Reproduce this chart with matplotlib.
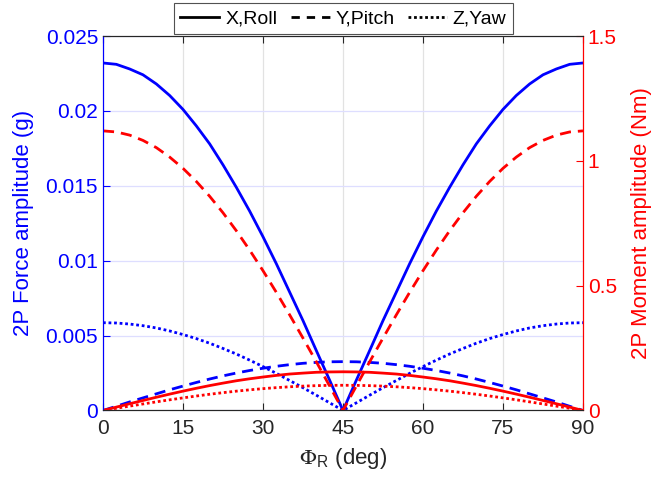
import numpy as np
import matplotlib
matplotlib.use("Agg")
import matplotlib.pyplot as plt
from matplotlib.lines import Line2D

plt.rcParams['font.family'] = ['Liberation Sans', 'DejaVu Sans']
plt.rcParams['mathtext.fontset'] = 'stix'

# Phi_R in degrees, 0..90 every 2.5 deg
phi = [0, 2.5, 5, 7.5, 10, 12.5, 15, 17.5, 20, 22.5, 25, 27.5, 30, 32.5, 35, 37.5, 40, 42.5, 45,
       47.5, 50, 52.5, 55, 57.5, 60, 62.5, 65, 67.5, 70, 72.5, 75, 77.5, 80, 82.5, 85, 87.5, 90]

# values read for 0..45 deg; the curves are mirror images about 45 deg
# 2P force amplitude (g)
force_x_half = [0.0232, 0.02311, 0.0228, 0.02241, 0.0218, 0.02103, 0.0201, 0.0190, 0.0178, 0.0164,
                0.0149, 0.01331, 0.0116, 0.0098, 0.0079, 0.0060, 0.0040, 0.00202, 0.0]
force_y_half = [0.0, 0.00028, 0.00057, 0.00084, 0.00111, 0.00138, 0.00163, 0.00187, 0.00210, 0.00231,
                0.00250, 0.00267, 0.00282, 0.00295, 0.00306, 0.00315, 0.00321, 0.00325, 0.00326]
force_z_half = [0.00586, 0.00584, 0.00577, 0.00566, 0.00551, 0.00531, 0.00507, 0.00480, 0.00449, 0.00414,
                0.00377, 0.00336, 0.00293, 0.00248, 0.00200, 0.00152, 0.00102, 0.00051, 0.0]

# 2P moment amplitude (Nm)
moment_x_half = [0.0, 0.0135, 0.027, 0.0401, 0.053, 0.0655, 0.0775, 0.0889, 0.0997, 0.1096,
                 0.119, 0.127, 0.134, 0.1405, 0.146, 0.1497, 0.153, 0.1544, 0.155]
moment_y_half = [1.12, 1.1157, 1.103, 1.0818, 1.053, 1.0151, 0.970, 0.9175, 0.858, 0.792,
                 0.720, 0.6424, 0.560, 0.4733, 0.383, 0.2899, 0.195, 0.0977, 0.0]
moment_z_half = [0.0, 0.0088, 0.0175, 0.0261, 0.0345, 0.0427, 0.0505, 0.0579, 0.065, 0.0714,
                 0.0774, 0.0827, 0.0875, 0.0915, 0.0949, 0.0976, 0.0995, 0.1006, 0.101]


def full(half):
    return half + half[-2::-1]


blue = '#0000ff'
red = '#ff0000'
dark = '#262626'
lw = 2.0

fig = plt.figure(figsize=(6.53, 4.84), dpi=100)
ax = fig.add_axes([0.1577, 0.1519, 0.7351, 0.7737])
ax2 = ax.twinx()

ax.plot(phi, full(force_x_half), color=blue, lw=lw, linestyle='-')
ax.plot(phi, full(force_y_half), color=blue, lw=lw, dashes=(4, 2.5))
ax.plot(phi, full(force_z_half), color=blue, lw=lw, dashes=(1, 1))

ax2.plot(phi, full(moment_x_half), color=red, lw=lw, linestyle='-')
ax2.plot(phi, full(moment_y_half), color=red, lw=lw, dashes=(4, 2.5))
ax2.plot(phi, full(moment_z_half), color=red, lw=lw, dashes=(1, 1))

ax.set_xlim(0, 90)
ax.set_ylim(0, 0.025)
ax2.set_ylim(0, 1.5)
ax.set_xticks([0, 15, 30, 45, 60, 75, 90])
ax.set_yticks([0, 0.005, 0.01, 0.015, 0.02, 0.025])
ax.set_yticklabels(['0', '0.005', '0.01', '0.015', '0.02', '0.025'])
ax2.set_yticks([0, 0.5, 1, 1.5])
ax2.set_yticklabels(['0', '0.5', '1', '1.5'])

# grid
ax.set_axisbelow(True)
ax.xaxis.grid(True, color='#e2e2e2', lw=0.9)
ax.yaxis.grid(True, color='#dedeff', lw=0.9)

fs = 15
ax.tick_params(axis='x', direction='in', top=True, colors=dark, labelsize=fs, length=5, pad=6)
ax.tick_params(axis='y', direction='in', colors=blue, labelsize=fs, length=5)
ax2.tick_params(axis='y', direction='in', colors=red, labelsize=fs, length=5)

for a in (ax, ax2):
    a.spines['top'].set_color(dark)
    a.spines['bottom'].set_color(dark)
    a.spines['left'].set_color(blue)
    a.spines['right'].set_color(red)

ax.set_ylabel('2P Force amplitude (g)', color=blue, fontsize=16, labelpad=8)
ax2.set_ylabel('2P Moment amplitude (Nm)', color=red, fontsize=16, labelpad=10)
ax.set_xlabel(r'$\Phi_\mathregular{R}$ (deg)', color=dark, fontsize=16, labelpad=6)

handles = [Line2D([], [], color='black', lw=lw, linestyle='-'),
           Line2D([], [], color='black', lw=lw, dashes=(3, 2.5)),
           Line2D([], [], color='black', lw=lw, dashes=(1, 1))]
leg = fig.legend(handles, ['X,Roll', 'Y,Pitch', 'Z,Yaw'], loc='upper center',
                 bbox_to_anchor=(0.526, 0.994), ncol=3, fontsize=14, frameon=True,
                 fancybox=False, edgecolor='#262626', handlelength=2.0,
                 handletextpad=0.3, columnspacing=0.7, borderpad=0.35,
                 borderaxespad=0.0)
leg.get_frame().set_linewidth(0.8)

fig.savefig('out.png', dpi=100)
